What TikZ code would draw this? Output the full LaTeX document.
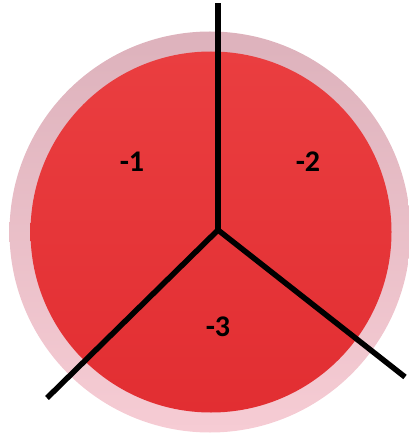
\documentclass[tikz,border=0pt]{standalone}
\usepackage{fontspec}
\setmainfont{Carlito}
\usepackage{xcolor}
\usetikzlibrary{positioning, calc}
\definecolor{rimpink}{RGB}{221,178,188}
\definecolor{rimlight}{RGB}{246,204,212}
\definecolor{platered}{RGB}{234,62,64}
\definecolor{platedark}{RGB}{226,46,50}
\begin{document}
\begin{tikzpicture}[x=1pt, y=-1pt]
    % Styles
    \tikzstyle{rim} = [circle, draw=none, top color=rimpink, bottom color=rimlight, minimum size=401pt, inner sep=0pt]
    \tikzstyle{plate} = [circle, draw=none, top color=platered, bottom color=platedark, minimum size=361pt, inner sep=0pt]
    \tikzstyle{regionlabel} = [font=\bfseries\fontsize{30}{34}\selectfont, text=black]
    \tikzstyle{line} = [draw, line width=5.5pt, black]

    \useasboundingbox (0,0) rectangle (408,438);

    % Nodes
    \node [rim] (outer) at (210,232) {};
    \node [plate] (inner) at (211,232) {};
    \coordinate (hub) at (218,230);
    \coordinate (top) at (218,3);
    \coordinate (lowleft) at (47,398);
    \coordinate (lowright) at (405,377);
    \node [regionlabel] (one) at (132,162) {-1};
    \node [regionlabel] (two) at (308,162) {-2};
    \node [regionlabel] (three) at (218,327) {-3};

    % Paths
    \path [line] (hub) -- (top);
    \path [line] (hub) -- (lowleft);
    \path [line] (hub) -- (lowright);
\end{tikzpicture}
\end{document}
